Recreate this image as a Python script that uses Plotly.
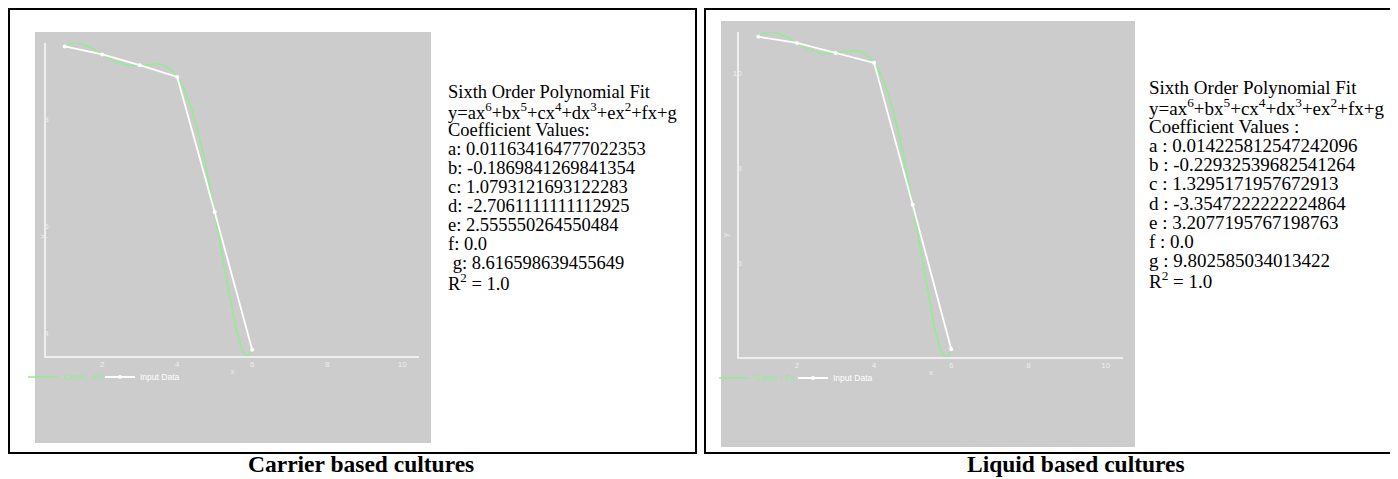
import numpy as np
import plotly.graph_objects as go

# the page body adds an 8px margin; the figure fills the rest of the 1398x479 window
OFF = 8
W, H = 1398 - OFF, 479 - OFF

# ---------------- data ----------------
x_data = [1, 2, 3, 4, 5, 6]
carrier_y = [9.37, 9.22, 9.02, 8.80, 6.27, 3.69]
liquid_y = [10.77, 10.64, 10.43, 10.22, 7.24, 4.20]

# printed sixth-order coefficients a..g (x^6 ... x^0)
carrier_coef = [0.011634164777022353, -0.1869841269841354, 1.0793121693122283,
                -2.7061111111112925, 2.555550264550484, 0.0, 8.616598639455649]
liquid_coef = [0.014225812547242096, -0.22932539682541264, 1.3295171957672913,
               -3.3547222222224864, 3.2077195767198763, 0.0, 9.802585034013422]

carrier_text = [
    "Sixth Order Polynomial Fit",
    "y=ax<sup>6</sup>+bx<sup>5</sup>+cx<sup>4</sup>+dx<sup>3</sup>+ex<sup>2</sup>+fx+g",
    "Coefficient Values:",
    "a: 0.011634164777022353",
    "b: -0.1869841269841354",
    "c: 1.0793121693122283",
    "d: -2.7061111111112925",
    "e: 2.555550264550484",
    "f: 0.0",
    " g: 8.616598639455649",
    "R<sup>2</sup> = 1.0",
]
liquid_text = [
    "Sixth Order Polynomial Fit",
    "y=ax<sup>6</sup>+bx<sup>5</sup>+cx<sup>4</sup>+dx<sup>3</sup>+ex<sup>2</sup>+fx+g",
    "Coefficient Values :",
    "a : 0.014225812547242096",
    "b : -0.22932539682541264",
    "c : 1.3295171957672913",
    "d : -3.3547222222224864",
    "e : 3.2077195767198763",
    "f : 0.0",
    "g : 9.802585034013422",
    "R<sup>2</sup> = 1.0",
]
captions = ["Carrier based cultures", "Liquid based cultures"]
x_ticks = [2, 4, 6, 8, 10]


def px(v):
    return (v - OFF) / W


def py(v):
    return 1 - (v - OFF) / H


GRAY = "#cccccc"
AXC = "#eeeeee"
GREEN = "#90ee90"
WHITE = "#ffffff"
SANS = "Liberation Sans, Arial, sans-serif"
SERIF = "Times New Roman, Liberation Serif, serif"

fig = go.Figure()

panels = [
    dict(y=carrier_y, coef=carrier_coef, xa="x", ya="y", legs=("legend", "legend2"),
         dom_x=(46, 419), dom_y=(43, 356)),
    dict(y=liquid_y, coef=liquid_coef, xa="x2", ya="y2", legs=("legend3", "legend4"),
         dom_x=(739, 1123), dom_y=(32, 357)),
]

ranges_y = []
for p in panels:
    fx = np.linspace(x_data[0], x_data[-1], 500)
    fy = np.polyval(p["coef"], fx)
    ranges_y.append([float(fy.min()), float(fy.max())])
    fig.add_trace(go.Scatter(
        x=fx, y=fy, mode="lines", xaxis=p["xa"], yaxis=p["ya"],
        line=dict(color=GREEN, width=1.6),
        name=f"<span style='color:{GREEN}'>Curve - Fit</span>",
        legend=p["legs"][0], hoverinfo="skip"))
    fig.add_trace(go.Scatter(
        x=x_data, y=p["y"], mode="lines+markers", xaxis=p["xa"], yaxis=p["ya"],
        line=dict(color=WHITE, width=1.8), marker=dict(color=WHITE, size=4),
        name="Input Data", legend=p["legs"][1]))

axis_common = dict(showline=True, linecolor=AXC, linewidth=1.5, showgrid=False,
                   zeroline=False, ticks="", tickfont=dict(size=8, color=AXC, family=SANS))

layout = dict(
    width=W, height=H, margin=dict(l=0, r=0, t=0, b=0),
    paper_bgcolor="white", plot_bgcolor="rgba(0,0,0,0)",
    showlegend=True,
)
for i, p in enumerate(panels):
    sfx = "" if i == 0 else "2"
    layout["xaxis" + sfx] = dict(
        axis_common, domain=[px(p["dom_x"][0]), px(p["dom_x"][1])],
        range=[0.5, 10.45], tickvals=x_ticks, anchor="y" + sfx,
        title=dict(text="x", font=dict(size=8, color=AXC, family=SANS), standoff=0))
    layout["yaxis" + sfx] = dict(
        axis_common, domain=[py(p["dom_y"][1]), py(p["dom_y"][0])],
        range=ranges_y[i], dtick=2, anchor="x" + sfx, ticklabelstandoff=-6)

legend_common = dict(orientation="h", xanchor="left", yanchor="middle",
                     bgcolor="rgba(0,0,0,0)", font=dict(size=8.5, color=WHITE, family=SANS),
                     itemwidth=30, tracegroupgap=0)
layout["legend"] = dict(legend_common, x=px(23), y=py(377))
layout["legend2"] = dict(legend_common, x=px(100), y=py(377))
layout["legend3"] = dict(legend_common, x=px(714), y=py(378))
layout["legend4"] = dict(legend_common, x=px(793), y=py(378))
fig.update_layout(**layout)

# background panels and frames
shapes = []
for (x0, y0, x1, y1) in [(35, 32, 431, 443), (721, 21, 1135, 447)]:
    shapes.append(dict(type="rect", xref="paper", yref="paper", x0=px(x0), x1=px(x1),
                       y0=py(y1), y1=py(y0), fillcolor=GRAY, line=dict(width=0), layer="below"))
for (x0, y0, x1, y1) in [(9, 9, 696, 453), (705, 9, 1395, 453)]:
    shapes.append(dict(type="rect", xref="paper", yref="paper", x0=px(x0), x1=px(x1),
                       y0=py(y1), y1=py(y0), fillcolor="rgba(0,0,0,0)",
                       line=dict(width=2, color="black"), layer="below"))
fig.update_layout(shapes=shapes)

ann = []
# y-axis titles
for (xx, yy) in [(35, 237), (725, 235)]:
    ann.append(dict(text="y", x=px(xx), y=py(yy), xref="paper", yref="paper",
                    showarrow=False, textangle=-90, font=dict(size=8, color=AXC, family=SANS)))
# coefficient blocks
for lines, x0, y0, step, size in [(carrier_text, 446, 92, 19.0, 18.5),
                                  (liquid_text, 1147, 88, 19.2, 19)]:
    for k, t in enumerate(lines):
        ann.append(dict(text=t, x=px(x0), y=py(y0 + k * step), xref="paper", yref="paper",
                        xanchor="left", yanchor="middle", showarrow=False,
                        font=dict(size=size, color="black", family=SERIF)))
# captions
for t, xx in zip(captions, [246, 965]):
    ann.append(dict(text=f"<b>{t}</b>", x=px(xx), y=py(479), xref="paper", yref="paper",
                    xanchor="left", yanchor="bottom", showarrow=False,
                    font=dict(size=23.5, color="black", family=SERIF)))
fig.update_layout(annotations=ann)

fig.write_html("out.html")
